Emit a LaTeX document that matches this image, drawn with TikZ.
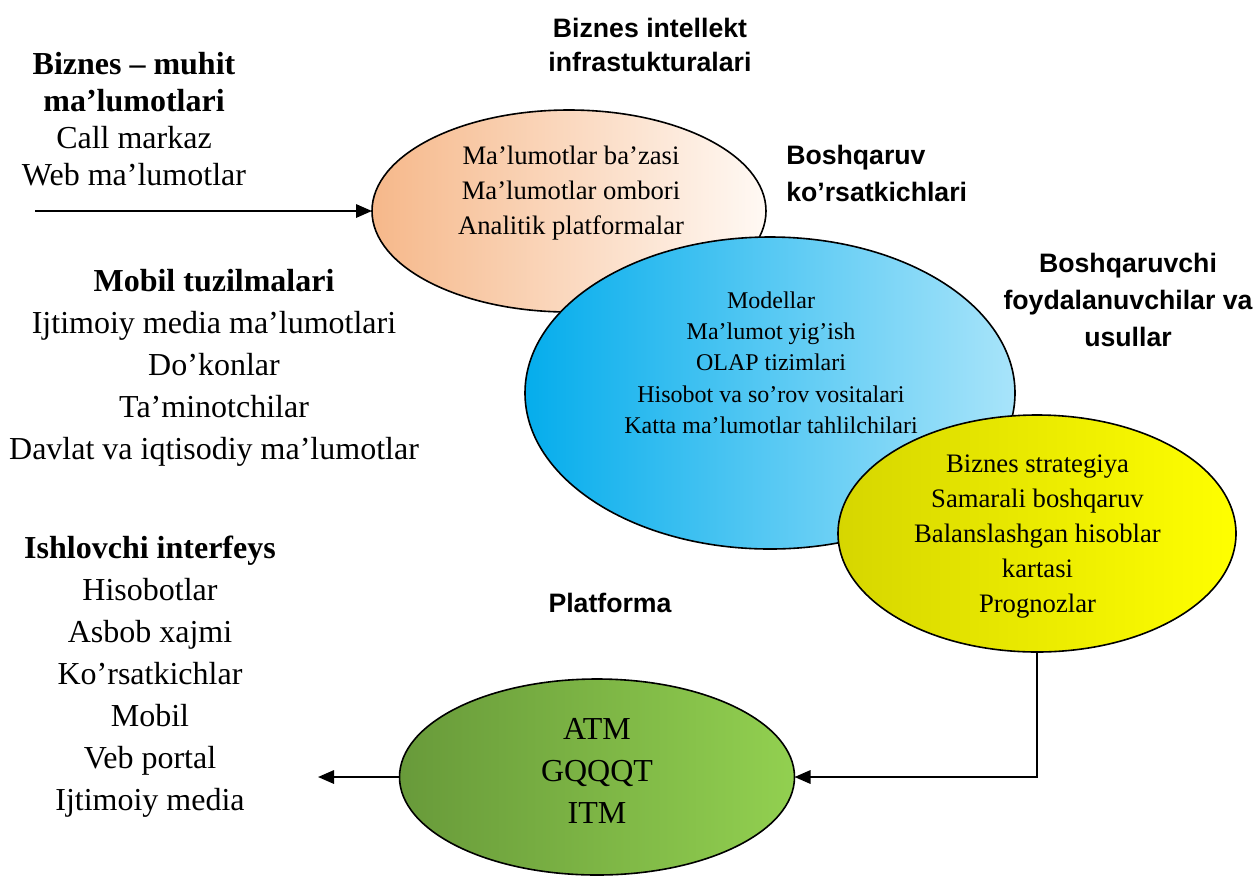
\documentclass[tikz,border=0pt]{standalone}
\usepackage{fontspec}
\setmainfont{Liberation Serif}
\setsansfont{Liberation Sans}
\usetikzlibrary{arrows.meta,shapes.geometric}
\definecolor{orL}{HTML}{F6B88A}
\definecolor{orR}{HTML}{FFF9F4}
\definecolor{blL}{HTML}{05ADEC}
\definecolor{blR}{HTML}{A8E4FA}
\definecolor{yeL}{HTML}{D6D600}
\definecolor{yeR}{HTML}{FFFF00}
\definecolor{grL}{HTML}{689A3A}
\definecolor{grR}{HTML}{92D050}
\begin{document}
\begin{tikzpicture}[x=0.75pt,y=-0.75pt,
  blob/.style={ellipse,draw=black,line width=1.2pt,inner sep=0pt,outer sep=0pt},
  txt/.style={align=center,inner sep=0pt},
  bigtxt/.style={txt,font=\fontsize{24}{31.5}\selectfont},
  head/.style={align=center,inner sep=0pt,font=\sffamily\bfseries\fontsize{20}{27.75}\selectfont},
  conn/.style={line width=1.6pt,-{Triangle[length=12pt,width=10pt]}}]
\useasboundingbox (0,0) rectangle (1257,876);

% ellipses
\node[blob,left color=orL,right color=orR,minimum width=295.5pt,minimum height=151.5pt] (orange) at (569,211) {};
\node[blob,left color=blL,right color=blR,minimum width=367.5pt,minimum height=234pt] (blue) at (770,393) {};
\node[blob,left color=yeL,right color=yeR,minimum width=298.5pt,minimum height=177.75pt] (yellow) at (1037,533.5) {};
\node[blob,left color=grL,right color=grR,minimum width=296.25pt,minimum height=147pt] (green) at (597,777) {};

% ellipse texts
\node[txt,font=\fontsize{20}{26.25}\selectfont] (ortxt) at (571,193.5) {Ma’lumotlar ba’zasi\\Ma’lumotlar ombori\\Analitik platformalar};
\node[txt,font=\fontsize{18}{23.5}\selectfont] (bltxt) at (771,362.5) {Modellar\\Ma’lumot yig’ish\\OLAP tizimlari\\Hisobot va so’rov vositalari\\Katta ma’lumotlar tahlilchilari};
\node[txt,font=\fontsize{20}{26.25}\selectfont] (yetxt) at (1037.5,537) {Biznes strategiya\\Samarali boshqaruv\\Balanslashgan hisoblar\\kartasi\\Prognozlar};
\node[bigtxt] (grtxt) at (597,770.5) {ATM\\GQQQT\\ITM};

% left blocks
\node[txt,font=\fontsize{24}{27.75}\selectfont] (env) at (134,119) {\textbf{Biznes – muhit}\\\textbf{ma’lumotlari}\\Call markaz\\Web ma’lumotlar};
\node[bigtxt] (mob) at (214,367.5) {\textbf{Mobil tuzilmalari}\\Ijtimoiy media ma’lumotlari\\Do’konlar\\Ta’minotchilar\\Davlat va iqtisodiy ma’lumotlar};
\node[bigtxt] (iface) at (150,676.5) {\textbf{Ishlovchi interfeys}\\Hisobotlar\\Asbob xajmi\\Ko’rsatkichlar\\Mobil\\Veb portal\\Ijtimoiy media};

% headings
\node[head,font=\sffamily\bfseries\fontsize{20}{25.5}\selectfont] (bi) at (650,45) {Biznes intellekt\\infrastukturalari};
\node[head,align=left,anchor=west] (bk) at (786,173.5) {Boshqaruv\\ko’rsatkichlari};
\node[head] (bf) at (1128,300) {Boshqaruvchi\\foydalanuvchilar va\\usullar};
\node[head] (pl) at (610,603) {Platforma};

% connectors
\coordinate (inStart) at (35,211);
\coordinate (outEnd) at (318,777);
\draw[conn] (inStart) -- (orange.west);
\draw[conn] (yellow.south) |- (green.east);
\draw[conn] (green.west) -- (outEnd);
\end{tikzpicture}
\end{document}
